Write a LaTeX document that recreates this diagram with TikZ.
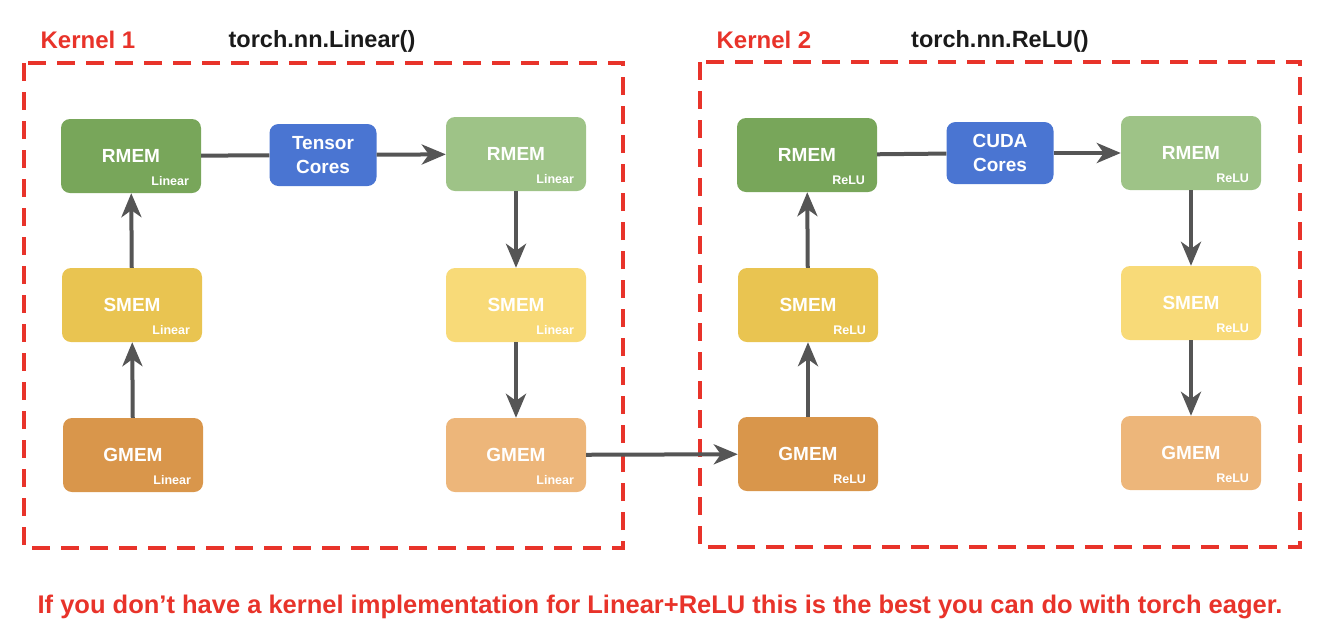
\documentclass[tikz,border=0pt]{standalone}
\usepackage{fontspec}
\setmainfont{Liberation Sans}
\usepackage{xcolor}
\usetikzlibrary{arrows.meta,positioning}
\definecolor{krred}{HTML}{E8332A}
\definecolor{krink}{HTML}{1A1A1A}
\definecolor{krarrow}{HTML}{555555}
\definecolor{rmemdark}{HTML}{78A65A}
\definecolor{rmemlight}{HTML}{9EC387}
\definecolor{smemdark}{HTML}{E9C451}
\definecolor{smemlight}{HTML}{F8DA78}
\definecolor{gmemdark}{HTML}{D9964B}
\definecolor{gmemlight}{HTML}{EDB67A}
\definecolor{coreblue}{HTML}{4A75D2}
\tikzset{
  mem/.style 2 args={rectangle,rounded corners=9pt,fill=#1,minimum width=140pt,
                minimum height=74pt,text=white,font=\fontsize{19}{22}\selectfont\bfseries,
                label={[tag]south east:#2}},
  tag/.style={anchor=south east,xshift=-12pt,yshift=7pt,text=white,inner sep=0pt,
              font=\fontsize{12.5}{14}\selectfont\bfseries},
  core/.style={rectangle,rounded corners=9pt,fill=coreblue,minimum width=107pt,
               minimum height=62pt,text=white,align=center,
               font=\fontsize{19}{23.5}\selectfont\bfseries},
  kernelbox/.style={draw=krred,line width=4.5pt,dash pattern=on 18pt off 11pt},
  ktitle/.style={text=krred,font=\fontsize{24}{27}\selectfont\bfseries},
  optitle/.style={text=krink,font=\fontsize{23.5}{27}\selectfont\bfseries},
  flow/.style={-{Stealth[length=24pt,width=20pt,inset=7pt]},line width=4pt,draw=krarrow},
  link/.style={line width=4pt,draw=krarrow},
}
\begin{document}
\begin{tikzpicture}[x=1pt,y=-1pt]
  \useasboundingbox (0,0) rectangle (1318,630);
  % kernel frames
  \draw[kernelbox] (24,63) rectangle (623,548);
  \draw[kernelbox] (700,62) rectangle (1300,547);
  \node[ktitle] (k1) at (88,40) {Kernel 1};
  \node[optitle] (op1) at (322,41) {torch.nn.Linear()};
  \node[ktitle] (k2) at (764,40) {Kernel 2};
  \node[optitle] (op2) at (1000,41) {torch.nn.ReLU()};
  % kernel 1
  \node[mem={rmemdark}{Linear}] (rmemA) at (131,156) {RMEM};
  \node[mem={smemdark}{Linear}] (smemA) at (132,305) {SMEM};
  \node[mem={gmemdark}{Linear}] (gmemA) at (133,455) {GMEM};
  \node[core] (tensor) at (323,155) {Tensor\\Cores};
  \node[mem={rmemlight}{Linear}] (rmemB) at (516,154) {RMEM};
  \node[mem={smemlight}{Linear}] (smemB) at (516,305) {SMEM};
  \node[mem={gmemlight}{Linear}] (gmemB) at (516,455) {GMEM};
  % kernel 2
  \node[mem={rmemdark}{ReLU}] (rmemC) at (807,155) {RMEM};
  \node[mem={smemdark}{ReLU}] (smemC) at (808,305) {SMEM};
  \node[mem={gmemdark}{ReLU}] (gmemC) at (808,454) {GMEM};
  \node[core] (cuda) at (1000,153) {CUDA\\Cores};
  \node[mem={rmemlight}{ReLU}] (rmemD) at (1191,153) {RMEM};
  \node[mem={smemlight}{ReLU}] (smemD) at (1191,303) {SMEM};
  \node[mem={gmemlight}{ReLU}] (gmemD) at (1191,453) {GMEM};
  % connectors
  \draw[flow] (gmemA) -- (smemA);
  \draw[flow] (smemA) -- (rmemA);
  \draw[link] (rmemA) -- (tensor);
  \draw[flow] (tensor) -- (rmemB);
  \draw[flow] (rmemB) -- (smemB);
  \draw[flow] (smemB) -- (gmemB);
  \draw[flow] (gmemB) -- (gmemC);
  \draw[flow] (gmemC) -- (smemC);
  \draw[flow] (smemC) -- (rmemC);
  \draw[link] (rmemC) -- (cuda);
  \draw[flow] (cuda) -- (rmemD);
  \draw[flow] (rmemD) -- (smemD);
  \draw[flow] (smemD) -- (gmemD);
  \node[text=krred,font=\fontsize{25.5}{29}\selectfont\bfseries] (note) at (660,607)
    {If you don’t have a kernel implementation for Linear+ReLU this is the best you can do with torch eager.};
\end{tikzpicture}
\end{document}
